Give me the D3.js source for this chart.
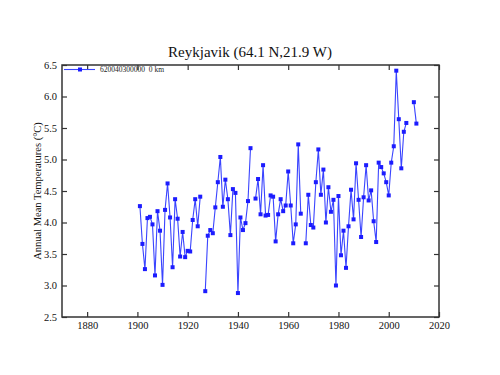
<!DOCTYPE html>
<html><head><meta charset="utf-8">
<script src="https://cdn.jsdelivr.net/npm/d3@7"></script>
<style>html,body{margin:0;padding:0;background:#fff;}svg{display:block;}</style>
</head><body>
<svg id="chart" width="500" height="375"></svg>
<script>
const years = [1901,1902,1903,1904,1905,1906,1907,1908,1909,1910,1911,1912,1913,1914,1915,1916,1917,1918,1919,1920,1921,1922,1923,1924,1925,
  1927,1928,1929,1930,1931,1932,1933,1934,1935,1936,1937,1938,1939,1940,1941,1942,1943,1944,1945,
  1947,1948,1949,1950,1951,1952,1953,1954,1955,1956,1957,1958,1959,1960,1961,1962,1963,1964,1965,
  1967,1968,1969,1970,1971,1972,1973,1974,1975,1976,1977,1978,1979,1980,1981,1982,1983,1984,1985,1986,1987,1988,1989,1990,
  1991,1992,1993,1994,1995,1996,1997,1998,1999,2000,2001,2002,2003,2004,2005,2006,2007,
  2010,2011];
const temps = [4.26,3.66,3.26,4.07,4.09,3.97,3.16,4.18,3.87,3.01,4.20,4.62,4.08,3.29,4.37,4.06,3.46,3.85,3.45,3.55,3.54,4.04,4.37,3.94,4.41,
  2.91,3.79,3.88,3.83,4.24,4.64,5.04,4.25,4.68,4.37,3.80,4.53,4.47,2.88,4.08,3.88,3.99,4.34,5.18,
  4.38,4.69,4.13,4.91,4.11,4.12,4.43,4.41,3.70,4.13,4.37,4.18,4.27,4.81,4.27,3.67,3.97,5.24,4.14,
  3.67,4.44,3.96,3.92,4.64,5.16,4.44,4.84,4.00,4.56,4.17,4.36,3.00,4.42,3.48,3.87,3.28,3.94,4.52,4.05,4.94,4.36,3.77,4.40,
  4.91,4.35,4.51,4.02,3.69,4.95,4.88,4.78,4.64,4.43,4.95,5.21,6.41,5.64,4.86,5.44,5.58,
  5.91,5.57];
const xTicks = [1880,1900,1920,1940,1960,1980,2000,2020];
const yTicks = [2.5,3.0,3.5,4.0,4.5,5.0,5.5,6.0,6.5];
const titleText = "Reykjavik (64.1 N,21.9 W)";
const yLabel = "Annual Mean Temperatures (\u00B0C)";
const legendText = "620040300000  0 km";

const svg = d3.select("#chart");
const L = 62, R = 439, T = 65, B = 317;
const x = d3.scaleLinear().domain([1870, 2020]).range([L, R]);
const y = d3.scaleLinear().domain([2.5, 6.5]).range([B, T]);
const font = "Liberation Serif, Times New Roman, serif";
const axisColor = "#333";

// frame
svg.append("rect").attr("x", L).attr("y", T).attr("width", R - L).attr("height", B - T)
  .attr("fill", "none").attr("stroke", axisColor).attr("stroke-width", 1.5);

function styleAxis(g) {
  g.attr("font-family", font).attr("font-size", 10.5);
  g.select(".domain").remove();
  g.selectAll(".tick line").attr("stroke", axisColor).attr("stroke-width", 1.2);
  g.selectAll("text").attr("fill", "#111").style("font-family", font).style("font-size", "10.5px");
}
svg.append("g").attr("transform", `translate(0,${B})`)
  .call(d3.axisBottom(x).tickValues(xTicks).tickFormat(d3.format("d")).tickSizeInner(-5).tickPadding(5))
  .call(styleAxis);
svg.append("g").attr("transform", `translate(0,${T})`)
  .call(d3.axisTop(x).tickValues(xTicks).tickFormat("").tickSizeInner(-5))
  .call(styleAxis);
svg.append("g").attr("transform", `translate(${L},0)`)
  .call(d3.axisLeft(y).tickValues(yTicks).tickFormat(d3.format(".1f")).tickSizeInner(-5).tickPadding(5))
  .call(styleAxis);
svg.append("g").attr("transform", `translate(${R},0)`)
  .call(d3.axisRight(y).tickValues(yTicks).tickFormat("").tickSizeInner(-5))
  .call(styleAxis);

// title
svg.append("text").attr("x", 250).attr("y", 57).attr("text-anchor", "middle")
  .style("font-family", font).style("font-size", "15px").attr("fill", "#111").text(titleText);

// y label
svg.append("text").attr("transform", `translate(41,${(T + B) / 2}) rotate(-90)`)
  .attr("text-anchor", "middle").style("font-family", font).style("font-size", "10.5px").attr("fill", "#111")
  .text(yLabel);

// data segments (gaps where years are missing)
const pts = years.map((yr, i) => ({yr, v: temps[i]}));
const line = d3.line().x(d => x(d.yr)).y(d => y(d.v));
const segs = [];
let cur = [];
pts.forEach((p, i) => {
  if (i > 0 && p.yr - pts[i - 1].yr > 1) { segs.push(cur); cur = []; }
  cur.push(p);
});
segs.push(cur);
const lineColor = "#3a44ff";
const markColor = "#1c1cff";
svg.append("g").selectAll("path").data(segs).join("path")
  .attr("d", line).attr("fill", "none").attr("stroke", lineColor).attr("stroke-width", 1.1);
svg.append("g").selectAll("rect").data(pts).join("rect")
  .attr("x", d => x(d.yr) - 2).attr("y", d => y(d.v) - 2).attr("width", 4).attr("height", 4)
  .attr("fill", markColor);

// legend
const ly = 69.5;
svg.append("line").attr("x1", 64).attr("x2", 95).attr("y1", ly).attr("y2", ly)
  .attr("stroke", lineColor).attr("stroke-width", 1.1);
svg.append("rect").attr("x", 78).attr("y", ly - 2).attr("width", 4).attr("height", 4).attr("fill", markColor);
svg.append("text").attr("x", 100).attr("y", ly + 2.5).style("font-family", font).style("font-size", "7.5px")
  .attr("fill", "#222").style("white-space", "pre").text(legendText);
</script>
</body></html>
